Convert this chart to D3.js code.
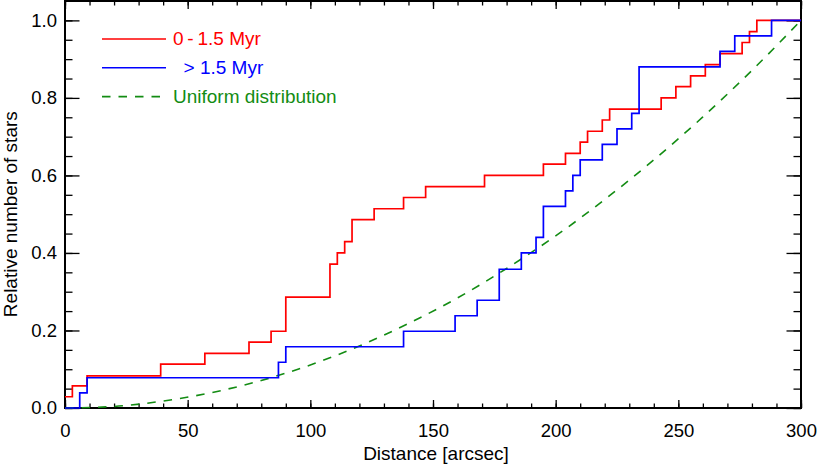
<!DOCTYPE html>
<html>
<head>
<meta charset="utf-8">
<script src="https://cdn.jsdelivr.net/npm/d3@7"></script>
<style>
  body { margin: 0; background: #fff; }
  svg { display: block; }
  text { font-family: "Liberation Sans", Arial, sans-serif; }
  .axis text { font-size: 18.5px; fill: #000; }
  .axis line { stroke: #000; stroke-width: 1.3; }
  .axis path { display: none; }
</style>
</head>
<body>
<script>
// distance [arcsec] where each step starts, and the cumulative fraction after it
var youngX = [0, 3, 9, 39, 57, 75, 84, 90, 108, 111, 114, 117, 126, 138, 147, 171, 195, 204, 210, 213,
    219, 222, 243, 249, 255, 261, 267, 276, 279, 282, 300];
var youngY = [0.029, 0.057, 0.083, 0.113, 0.141, 0.17, 0.198, 0.286, 0.371, 0.4, 0.429, 0.486, 0.514, 0.543,
    0.571, 0.6, 0.629, 0.657, 0.686, 0.714, 0.743, 0.771, 0.8, 0.829, 0.857, 0.886, 0.914, 0.943, 0.971, 1.0, 1.0];

var oldX = [0, 6, 9, 87, 90, 138, 159, 168, 177, 186, 192, 195, 204, 207, 210, 219, 225, 231, 234, 267,
    273, 288, 300];
var oldY = [0, 0.039, 0.078, 0.118, 0.158, 0.198, 0.238, 0.278, 0.358, 0.4, 0.44, 0.52, 0.56, 0.6, 0.64, 0.68,
    0.72, 0.76, 0.88, 0.92, 0.96, 1.0, 1.0];

// uniform distribution curve
var uniformX = [0, 20, 40, 60, 80, 100, 120, 140, 160, 180, 200, 220, 240, 260, 280, 300];
var uniformY = [0, 0.004, 0.018, 0.04, 0.071, 0.111, 0.16, 0.218, 0.284, 0.36, 0.444, 0.538, 0.64,
    0.751, 0.871, 1.0];

var xTicks = [0, 50, 100, 150, 200, 250, 300];
var yTicks = [0, 0.2, 0.4, 0.6, 0.8, 1.0];
var legendLabels = ["0\u2009-\u20091.5 Myr", "  > 1.5 Myr", "Uniform distribution"];
var legendColors = ["#ff0000", "#0000ff", "#138c13"];

var margin = { top: 1, right: 16, bottom: 58, left: 65 },
    width = 817 - margin.left - margin.right,
    height = 466 - margin.top - margin.bottom;

var x = d3.scaleLinear().domain([0, 300]).range([0, width]);
var y = d3.scaleLinear().domain([0, 1.05]).range([height, 0]);

var svg = d3.select("body").append("svg")
    .attr("width", 817)
    .attr("height", 466)
    .append("g")
    .attr("transform", "translate(" + margin.left + "," + margin.top + ")");

var xMinor = d3.range(0, 301, 10);
var yMinor = d3.range(0, 1.001, 0.05);

// bottom axis
svg.append("g").attr("class", "axis")
    .attr("transform", "translate(0," + height + ")")
    .call(d3.axisBottom(x).tickValues(xMinor).tickSize(-4.5).tickFormat(""));
svg.append("g").attr("class", "axis")
    .attr("transform", "translate(0," + height + ")")
    .call(d3.axisBottom(x).tickValues(xTicks).tickSize(-8).tickPadding(15.5).tickFormat(d3.format("d")));

// top axis
svg.append("g").attr("class", "axis")
    .call(d3.axisTop(x).tickValues(xMinor).tickSize(-4.5).tickFormat(""));
svg.append("g").attr("class", "axis")
    .call(d3.axisTop(x).tickValues(xTicks).tickSize(-8).tickFormat(""));

// left axis
svg.append("g").attr("class", "axis")
    .call(d3.axisLeft(y).tickValues(yMinor).tickSize(-7.5).tickFormat(""));
svg.append("g").attr("class", "axis")
    .call(d3.axisLeft(y).tickValues(yTicks).tickSize(-14.5).tickPadding(8).tickFormat(d3.format(".1f")));

// right axis
svg.append("g").attr("class", "axis")
    .attr("transform", "translate(" + width + ",0)")
    .call(d3.axisRight(y).tickValues(yMinor).tickSize(-7.5).tickFormat(""));
svg.append("g").attr("class", "axis")
    .attr("transform", "translate(" + width + ",0)")
    .call(d3.axisRight(y).tickValues(yTicks).tickSize(-14.5).tickFormat(""));

// frame
svg.append("rect")
    .attr("width", width)
    .attr("height", height)
    .style("fill", "none")
    .style("stroke", "#000")
    .style("stroke-width", 2);

// axis titles
svg.append("text")
    .attr("x", width / 2 + 3)
    .attr("y", height + 52)
    .style("text-anchor", "middle")
    .style("font-size", "19px")
    .text("Distance [arcsec]");

svg.append("text")
    .attr("transform", "rotate(-90)")
    .attr("x", -y(0.5))
    .attr("y", -48)
    .style("text-anchor", "middle")
    .style("font-size", "19px")
    .text("Relative number of stars");

var stepLine = d3.line()
    .x(function(d) { return x(d[0]); })
    .y(function(d) { return y(d[1]); })
    .curve(d3.curveStepAfter);

var smoothLine = d3.line()
    .x(function(d) { return x(d[0]); })
    .y(function(d) { return y(d[1]); })
    .curve(d3.curveMonotoneX);

svg.append("path")
    .datum(d3.zip(uniformX, uniformY))
    .attr("d", smoothLine)
    .style("fill", "none")
    .style("stroke", legendColors[2])
    .style("stroke-width", 1.6)
    .style("stroke-dasharray", "8.5,8");

svg.append("path")
    .datum(d3.zip(youngX, youngY))
    .attr("d", stepLine)
    .style("fill", "none")
    .style("stroke", legendColors[0])
    .style("stroke-width", 1.7);

svg.append("path")
    .datum(d3.zip(oldX, oldY))
    .attr("d", stepLine)
    .style("fill", "none")
    .style("stroke", legendColors[1])
    .style("stroke-width", 1.7);

// legend
var legend = svg.selectAll(".legend")
    .data(legendLabels)
    .enter().append("g")
    .attr("class", "legend")
    .attr("transform", function(d, i) {
        return "translate(37," + (38 + i * 28.8) + ")";
    });

legend.append("line")
    .attr("x1", 0)
    .attr("x2", 64)
    .style("stroke", function(d, i) { return legendColors[i]; })
    .style("stroke-width", 1.6)
    .style("stroke-dasharray", function(d, i) { return i === 2 ? "8.5,8" : null; });

legend.append("text")
    .attr("x", 71)
    .attr("y", 6)
    .style("font-size", "19px")
    .style("white-space", "pre")
    .style("fill", function(d, i) { return legendColors[i]; })
    .text(function(d) { return d; });
</script>
</body>
</html>
